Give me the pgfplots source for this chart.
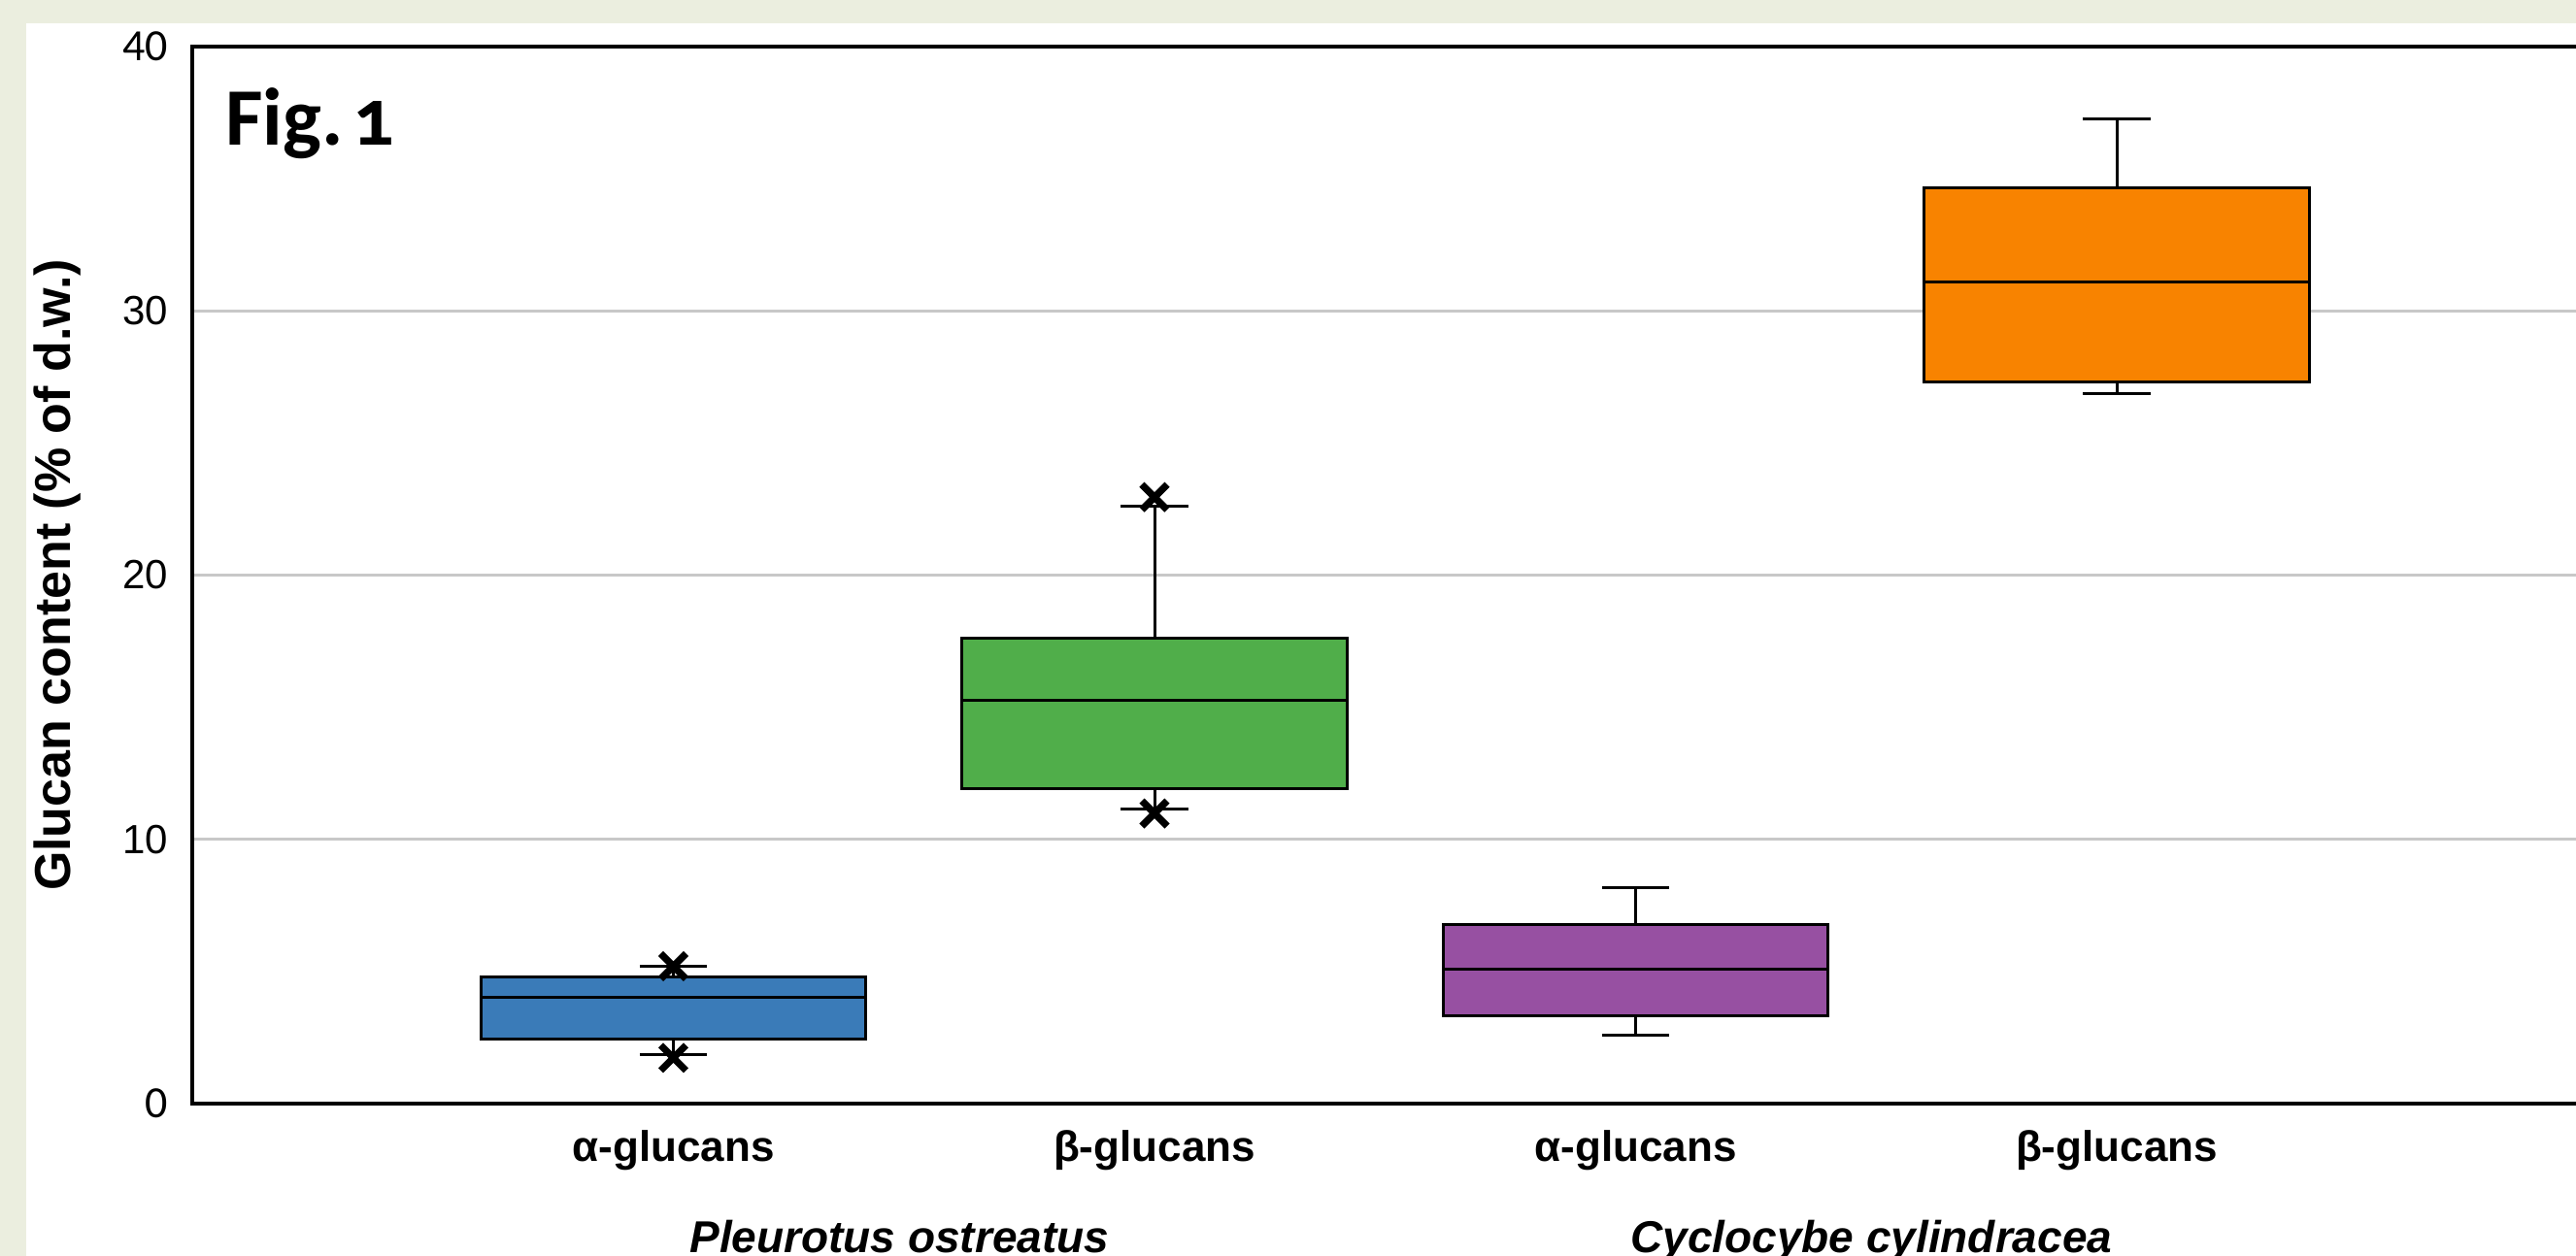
\documentclass[border=0pt]{standalone}
\usepackage{fontspec}
\setmainfont{Liberation Sans}
\newfontfamily\carlito{Carlito}
\newfontfamily\figfont[Numbers=OldStyle]{Carlito}
\usepackage{pgfplots}
\pgfplotsset{compat=1.18}
\usepgfplotslibrary{statistics}
\definecolor{bgg}{RGB}{235,238,223}
\definecolor{sblue}{RGB}{58,123,184}
\definecolor{sgreen}{RGB}{80,174,74}
\definecolor{spurple}{RGB}{151,80,162}
\definecolor{sorange}{RGB}{248,131,0}
\definecolor{gridc}{RGB}{200,200,200}
\begin{document}
\begin{tikzpicture}
\path[use as bounding box] (0,0) rectangle (663.25pt,323.5pt);
\fill[bgg] (0,0) rectangle (663.25pt,323.5pt);
\fill[white] (6.75pt,0) rectangle (663.25pt,317.5pt);
\begin{axis}[
  at={(49.5pt,39.25pt)}, anchor=south west,
  scale only axis, width=619.375pt, height=272.25pt,
  xmin=0, xmax=5, ymin=0, ymax=40,
  boxplot/draw direction=y,
  ytick={0,10,20,30,40},
  yticklabels={{\carlito\fontsize{11.5}{13}\selectfont 0},10,20,30,{\carlito\fontsize{11.5}{13}\selectfont 40}},
  xtick={1,2,3,4},
  xticklabels={α-glucans,β-glucans,α-glucans,β-glucans},
  xticklabel style={font=\bfseries\fontsize{11}{13}\selectfont, anchor=base, yshift=-14.9pt, inner sep=0pt},
  yticklabel style={font=\fontsize{10.5}{12}\selectfont, anchor=east, inner sep=0pt, xshift=-6pt},
  /pgf/number format/assume math mode=true,
  major tick length=0pt,
  ymajorgrids, grid style={gridc, line width=0.75pt},
  axis line style={line width=1pt},
  ylabel={Glucan content (\% of d.w.)},
  ylabel style={font=\bfseries\fontsize{13}{15}\selectfont, at={(axis description cs:-0.0561,0.5)}, anchor=center},
  clip=false,
]
\addplot[boxplot prepared={draw position=1, lower whisker=1.87, lower quartile=2.46, median=4.04, upper quartile=4.78, upper whisker=5.2, box extend=0.8, whisker extend=0.14},
  draw=black, fill=sblue, line width=0.75pt, mark=x, mark size=4.6pt, mark options={line width=1.8pt, draw=black}]
  table[row sep=\\, y index=0] {y\\ 5.2\\ 1.73\\};
\addplot[boxplot prepared={draw position=2, lower whisker=11.15, lower quartile=11.92, median=15.25, upper quartile=17.62, upper whisker=22.6, box extend=0.8, whisker extend=0.14},
  draw=black, fill=sgreen, line width=0.75pt, mark=x, mark size=4.6pt, mark options={line width=1.8pt, draw=black}]
  table[row sep=\\, y index=0] {y\\ 22.95\\ 10.98\\};
\addplot[boxplot prepared={draw position=3, lower whisker=2.58, lower quartile=3.32, median=5.08, upper quartile=6.79, upper whisker=8.18, box extend=0.8, whisker extend=0.14},
  draw=black, fill=spurple, line width=0.75pt]
  coordinates {};
\addplot[boxplot prepared={draw position=4, lower whisker=26.87, lower quartile=27.32, median=31.08, upper quartile=34.64, upper whisker=37.28, box extend=0.8, whisker extend=0.14},
  draw=black, fill=sorange, line width=0.75pt]
  coordinates {};
\node[anchor=base, inner sep=0pt, yshift=-38.25pt, font=\bfseries\itshape\fontsize{11.5}{13}\selectfont] at (axis cs:1.47,0) {Pleurotus ostreatus};
\node[anchor=base, inner sep=0pt, yshift=-38.25pt, font=\bfseries\itshape\fontsize{11.5}{13}\selectfont] at (axis cs:3.49,0) {Cyclocybe cylindracea};
\end{axis}
\node[anchor=base west, inner sep=0pt, font=\figfont\bfseries\fontsize{21}{24}\selectfont] at (57.9pt,286pt) {Fig.\hspace{0.12em}1};
\end{tikzpicture}
\end{document}
